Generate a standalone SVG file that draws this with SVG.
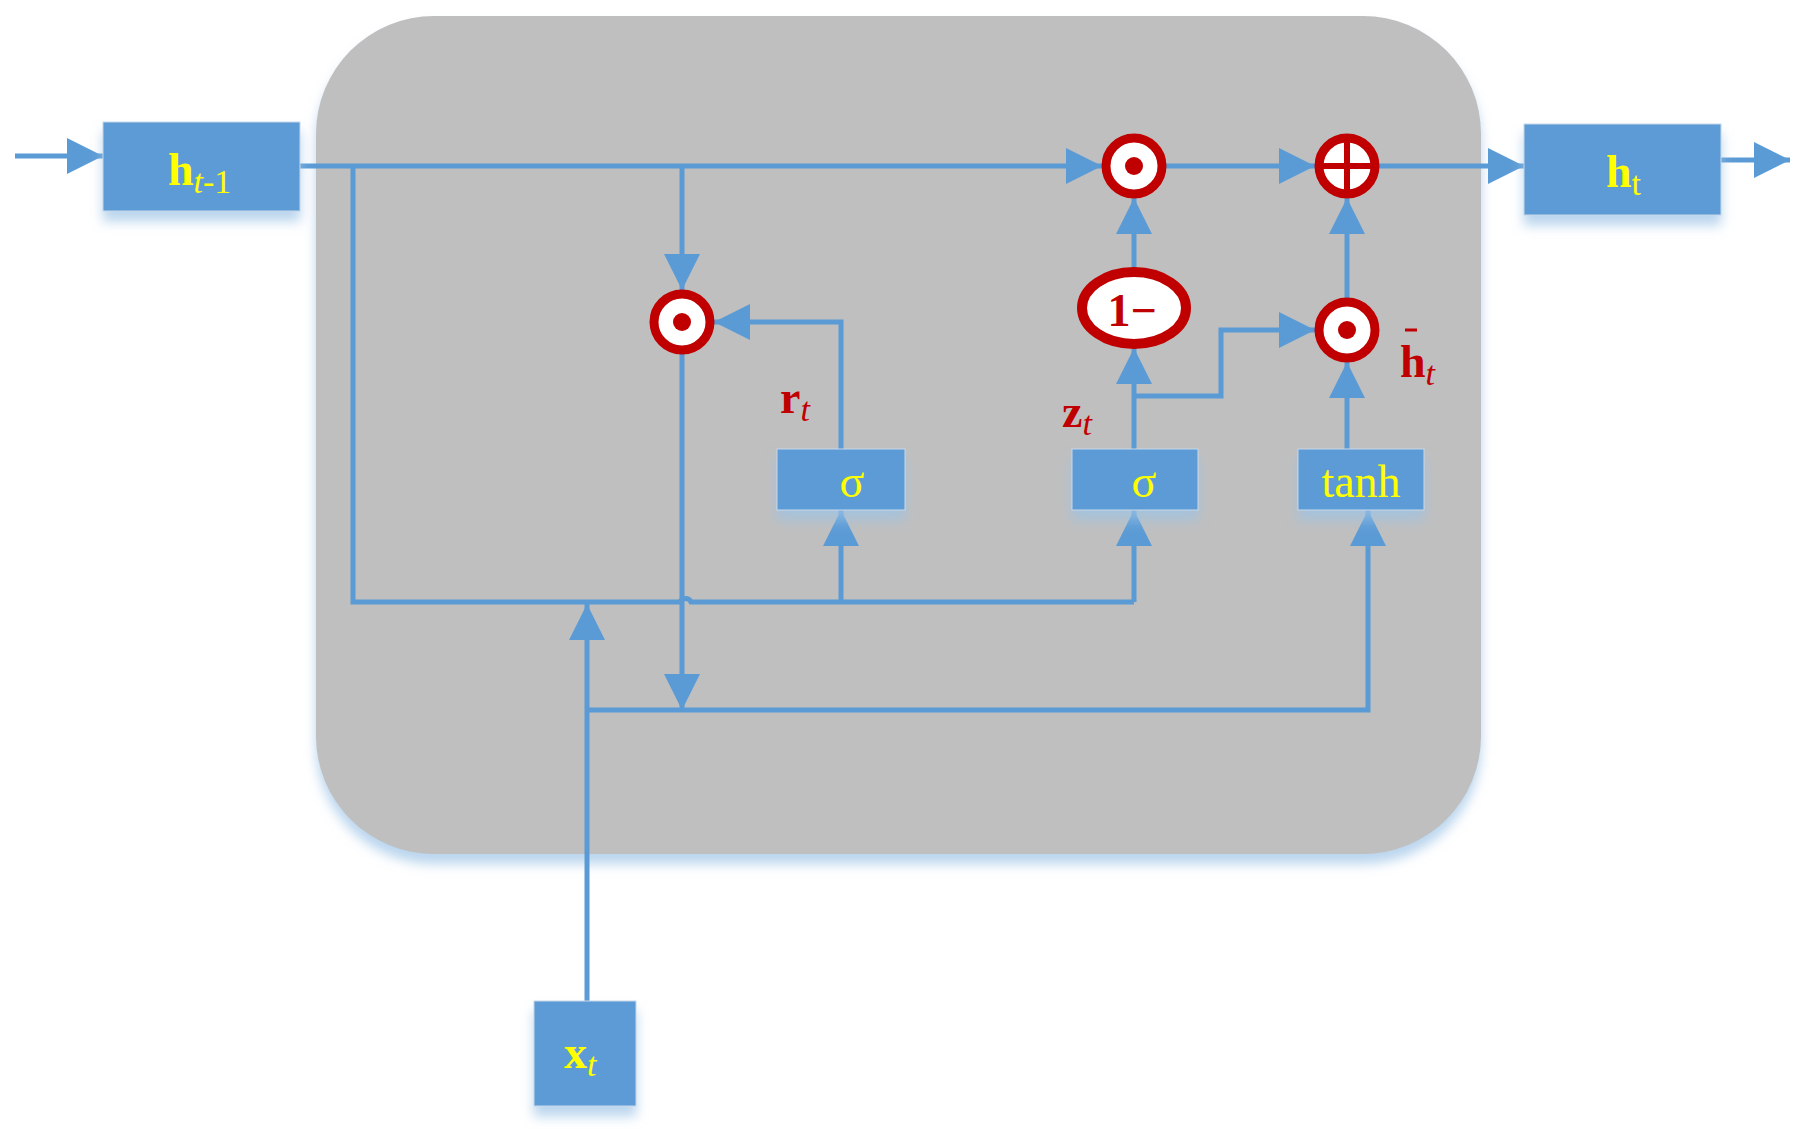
<svg xmlns="http://www.w3.org/2000/svg" width="1812" height="1130" viewBox="0 0 1812 1130">
<style>
.box{fill:#5B9BD5;stroke:#c8d8ea;stroke-width:1;filter:url(#sh)}
.ln{fill:none;stroke:#5B9BD5;stroke-width:5}
.ar{marker-end:url(#ah)}
.op{fill:#fff;stroke:#C00000;stroke-width:9}
.yl{font-family:"Liberation Serif",serif;fill:#FFFF00;font-size:46px}
.rd{font-family:"Liberation Serif",serif;fill:#C00000;font-size:46px}
</style>
<defs>
<marker id="ah" markerUnits="userSpaceOnUse" markerWidth="40" markerHeight="40" refX="36" refY="18" orient="auto"><path d="M0,0 L36,18 L0,36 Z" fill="#5B9BD5"/></marker>
<filter id="sh" x="-20%" y="-20%" width="140%" height="160%"><feDropShadow dx="0" dy="10" stdDeviation="6" flood-color="#9dc3e6" flood-opacity="0.7"/></filter>
</defs>
<rect x="316" y="16" width="1165" height="838" rx="118" ry="118" fill="#BFBFBF" filter="url(#sh)"/>
<g id="connectors">
<path class="ln ar" d="M15,156 H103"/>
<path class="ln ar" d="M300,166 H1102"/>
<path class="ln ar" d="M1166,166 H1315"/>
<path class="ln ar" d="M1379,166 H1524"/>
<path class="ln ar" d="M1721,160 H1790"/>
<path class="ln" d="M353,166 V602 H680 A6,6 0 0 1 691,602 H1134"/>
<path class="ln ar" d="M682,166 V290"/>
<path class="ln ar" d="M841,449 V322 H714"/>
<path class="ln ar" d="M682,354 V710"/>
<path class="ln ar" d="M841,602 V510"/>
<path class="ln ar" d="M1134,602 V510"/>
<path class="ln ar" d="M1134,449 V348"/>
<path class="ln ar" d="M1134,268 V198"/>
<path class="ln ar" d="M1134,396 H1221 V330 H1315"/>
<path class="ln ar" d="M1347,449 V362"/>
<path class="ln ar" d="M1347,298 V198"/>
<path class="ln ar" d="M587,1001 V604"/>
<path class="ln ar" d="M587,710 H1368 V510"/>
</g>
<g id="h_prev"><rect class="box" x="103" y="122" width="197" height="89"/><text class="yl" x="168" y="185" font-weight="bold">h<tspan font-style="italic" font-weight="normal" font-size="34" dy="8">t</tspan><tspan font-weight="normal" font-size="34">-1</tspan></text></g>
<g id="h_t"><rect class="box" x="1524" y="124" width="197" height="91"/><text class="yl" x="1606" y="187" font-weight="bold">h<tspan font-weight="normal" font-size="34" dy="8">t</tspan></text></g>
<g id="x_t"><rect class="box" x="534" y="1001" width="102" height="105"/><text class="yl" x="564" y="1068" font-weight="bold">x<tspan font-style="italic" font-weight="normal" font-size="34" dy="8">t</tspan></text></g>
<g id="sigma_r"><rect class="box" x="777" y="449" width="128" height="61"/><text class="yl" x="852" y="497" text-anchor="middle">σ</text></g>
<g id="sigma_z"><rect class="box" x="1072" y="449" width="126" height="61"/><text class="yl" x="1144" y="497" text-anchor="middle">σ</text></g>
<g id="tanh"><rect class="box" x="1298" y="449" width="126" height="61"/><text class="yl" x="1361" y="497" text-anchor="middle">tanh</text></g>
<g id="mul_r"><ellipse class="op" cx="682" cy="322" rx="28" ry="28"/><circle cx="682" cy="322" r="9" fill="#C00000"/></g>
<g id="mul_top"><ellipse class="op" cx="1134" cy="166" rx="28" ry="28"/><circle cx="1134" cy="166" r="9" fill="#C00000"/></g>
<g id="add"><ellipse class="op" cx="1347" cy="166" rx="28" ry="28"/><path d="M1319,166 H1375 M1347,138 V194" stroke="#C00000" stroke-width="6"/></g>
<g id="mul_h"><ellipse class="op" cx="1347" cy="330" rx="28" ry="28"/><circle cx="1347" cy="330" r="9" fill="#C00000"/></g>
<g id="one_minus"><ellipse cx="1134" cy="308" rx="52" ry="36" fill="#fff" stroke="#C00000" stroke-width="10"/><text class="rd" x="1132" y="326" text-anchor="middle" font-weight="bold">1−</text></g>
<text class="rd" x="780" y="413" font-weight="bold">r<tspan font-style="italic" font-weight="normal" font-size="34" dy="8">t</tspan></text>
<text class="rd" x="1062" y="427" font-weight="bold">z<tspan font-style="italic" font-weight="normal" font-size="34" dy="8">t</tspan></text>
<text class="rd" x="1400" y="377" font-weight="bold">h<tspan font-style="italic" font-weight="normal" font-size="34" dy="8">t</tspan></text>
<path d="M1405,330 H1417" stroke="#C00000" stroke-width="3"/>
</svg>
